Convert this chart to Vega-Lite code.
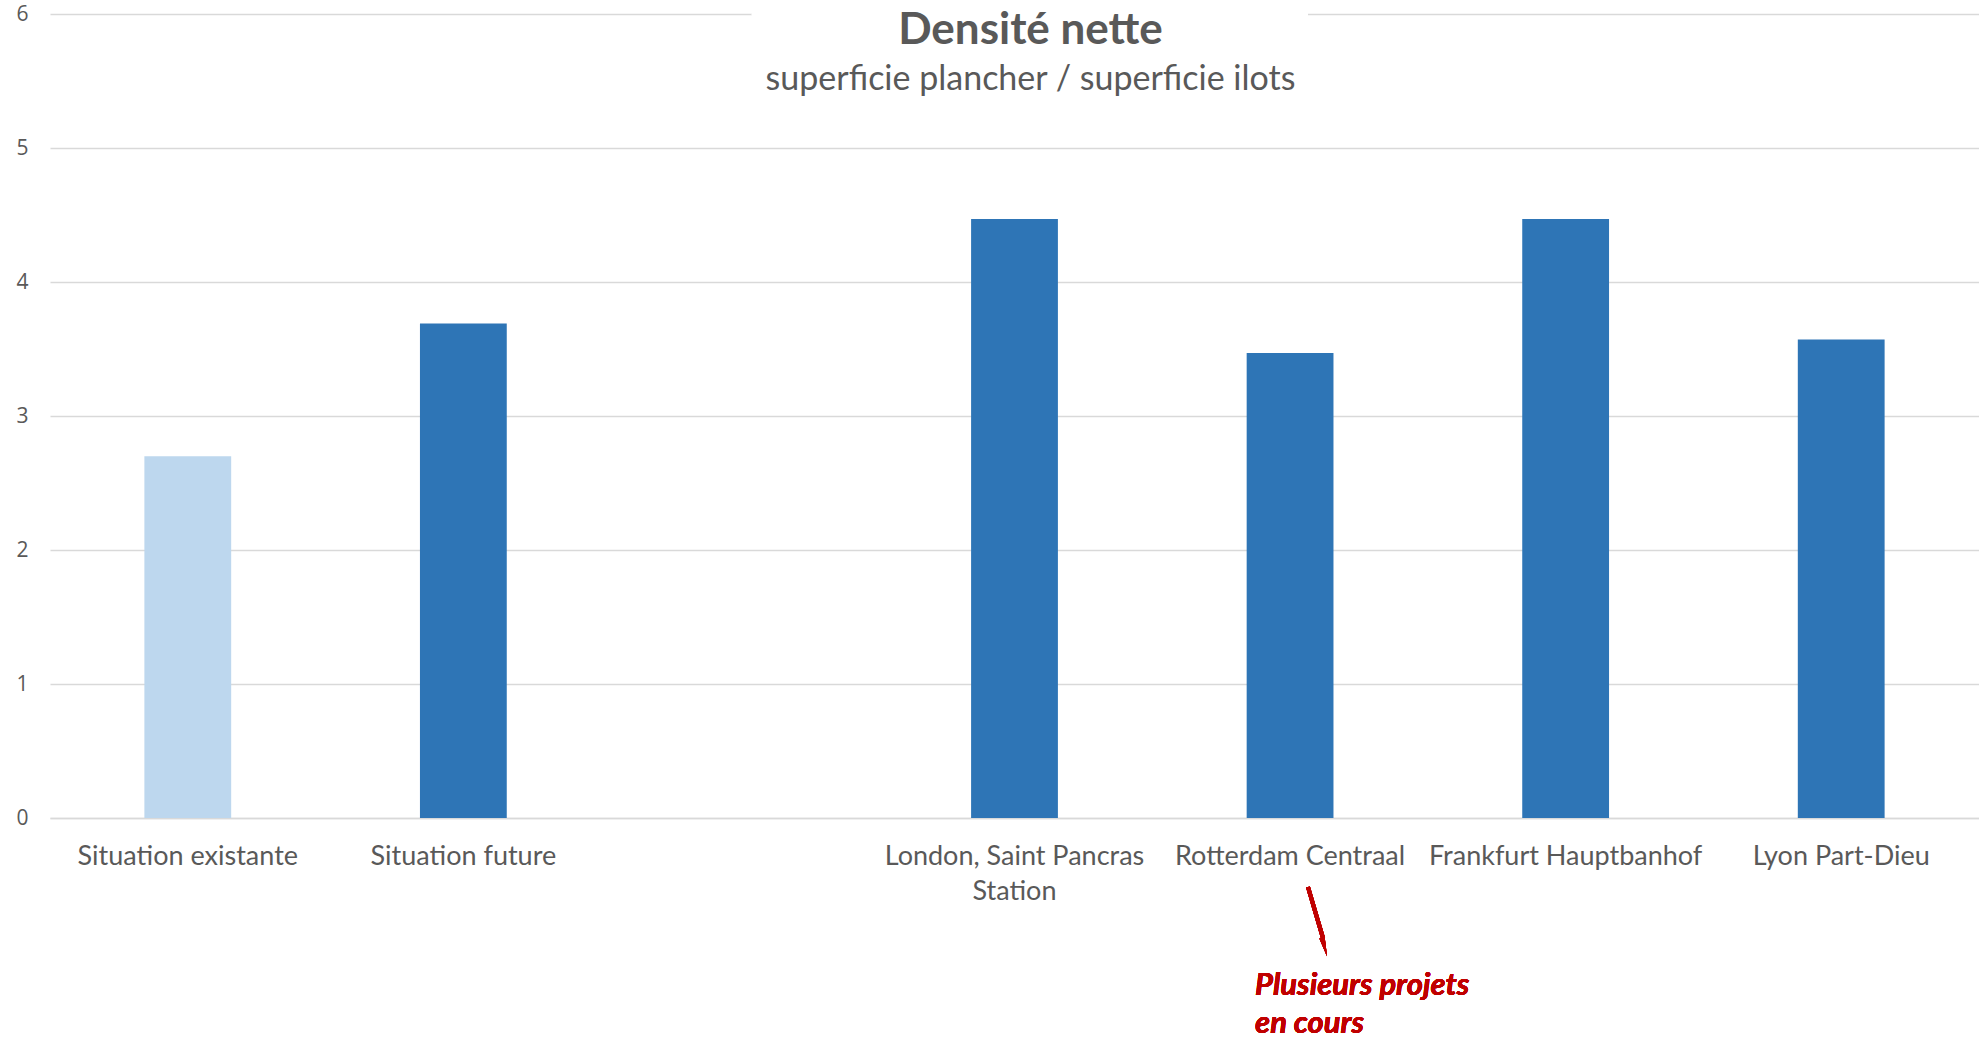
{
  "$schema": "https://vega.github.io/schema/vega-lite/v6.json",
  "autosize": {"type": "none"},
  "padding": {"left": 50, "top": 14, "right": 0, "bottom": 222},
  "width": 1929,
  "height": 804,
  "background": "white",
  "config": {"view": {"stroke": null}, "font": "Lato"},
  "title": {
    "text": "Densité nette",
    "subtitle": "superficie plancher / superficie ilots",
    "anchor": "middle",
    "orient": "top",
    "offset": -94,
    "dx": 16,
    "font": "Lato",
    "fontSize": 44,
    "fontWeight": "bold",
    "color": "#595959",
    "subtitleFont": "Lato",
    "subtitleFontSize": 34,
    "subtitleColor": "#595959",
    "subtitlePadding": 10
  },
  "data": {
    "values": [
      {"site": "Situation existante", "densite": 2.7, "groupe": "existant"},
      {"site": "Situation future", "densite": 3.69, "groupe": "projet"},
      {"site": " ", "densite": null, "groupe": "projet"},
      {"site": "London, Saint Pancras Station", "densite": 4.47, "groupe": "projet"},
      {"site": "Rotterdam Centraal", "densite": 3.47, "groupe": "projet"},
      {"site": "Frankfurt Hauptbanhof", "densite": 4.47, "groupe": "projet"},
      {"site": "Lyon Part-Dieu", "densite": 3.57, "groupe": "projet"}
    ]
  },
  "resolve": {"scale": {"x": "independent", "y": "independent"}},
  "layer": [
    {
      "mark": {"type": "bar"},
      "encoding": {
        "x": {
          "field": "site",
          "type": "nominal",
          "sort": null,
          "scale": {
            "domain": ["Situation existante", "Situation future", " ", "London, Saint Pancras Station", "Rotterdam Centraal", "Frankfurt Hauptbanhof", "Lyon Part-Dieu"],
            "paddingInner": 0.685,
            "paddingOuter": 0.3425
          },
          "axis": {
            "title": null,
            "labelAngle": 0,
            "labelFont": "Lato",
            "labelFontSize": 27,
            "labelColor": "#595959",
            "labelPadding": 25,
            "labelLineHeight": 35,
            "labelLimit": 500,
            "labelExpr": "datum.value == 'London, Saint Pancras Station' ? ['London, Saint Pancras', 'Station'] : datum.label",
            "ticks": false,
            "domainColor": "#D9D9D9",
            "domainWidth": 1.5,
            "grid": false
          }
        },
        "y": {
          "field": "densite",
          "type": "quantitative",
          "scale": {"domain": [0, 6], "nice": false},
          "axis": {
            "title": null,
            "values": [0, 1, 2, 3, 4, 5, 6],
            "labelFont": "Open Sans",
            "labelFontSize": 21,
            "labelColor": "#595959",
            "labelPadding": 22,
            "ticks": false,
            "domain": false,
            "gridColor": "#D9D9D9",
            "gridWidth": 1.5
          }
        },
        "color": {
          "field": "groupe",
          "type": "nominal",
          "scale": {"domain": ["existant", "projet"], "range": ["#BDD7EE", "#2E75B6"]},
          "legend": null
        }
      }
    },
    {
      "mark": {"type": "rect", "color": "white", "opacity": 1},
      "encoding": {
        "x": {"datum": 2.547, "type": "quantitative", "scale": {"domain": [0, 7], "nice": false, "zero": false}, "axis": null},
        "x2": {"datum": 4.565},
        "y": {"datum": 5.95, "type": "quantitative", "scale": {"domain": [0, 6], "nice": false}, "axis": null},
        "y2": {"datum": 6.08}
      }
    },
    {
      "mark": {"type": "rule", "color": "#C00000", "strokeWidth": 4},
      "encoding": {
        "x": {"datum": 4.565, "type": "quantitative", "scale": {"domain": [0, 7], "nice": false, "zero": false}, "axis": null},
        "x2": {"datum": 4.62},
        "y": {"datum": -0.515, "type": "quantitative", "scale": {"domain": [0, 6], "nice": false}, "axis": null},
        "y2": {"datum": -0.9}
      }
    },
    {
      "mark": {"type": "point", "shape": "wedge", "filled": true, "color": "#C00000", "opacity": 1, "size": 480, "angle": 165},
      "encoding": {
        "x": {"datum": 4.622, "type": "quantitative", "scale": {"domain": [0, 7], "nice": false, "zero": false}, "axis": null},
        "y": {"datum": -0.94, "type": "quantitative", "scale": {"domain": [0, 6], "nice": false}, "axis": null}
      }
    },
    {
      "mark": {"type": "text", "align": "left", "baseline": "middle", "font": "Lato", "fontSize": 31, "fontWeight": "bold", "fontStyle": "italic", "color": "#C00000", "lineHeight": 38},
      "encoding": {
        "x": {"datum": 4.373, "type": "quantitative", "scale": {"domain": [0, 7], "nice": false, "zero": false}, "axis": null},
        "y": {"datum": -1.25, "type": "quantitative", "scale": {"domain": [0, 6], "nice": false}, "axis": null},
        "text": {"value": ["Plusieurs projets", "en cours"]}
      }
    }
  ]
}
